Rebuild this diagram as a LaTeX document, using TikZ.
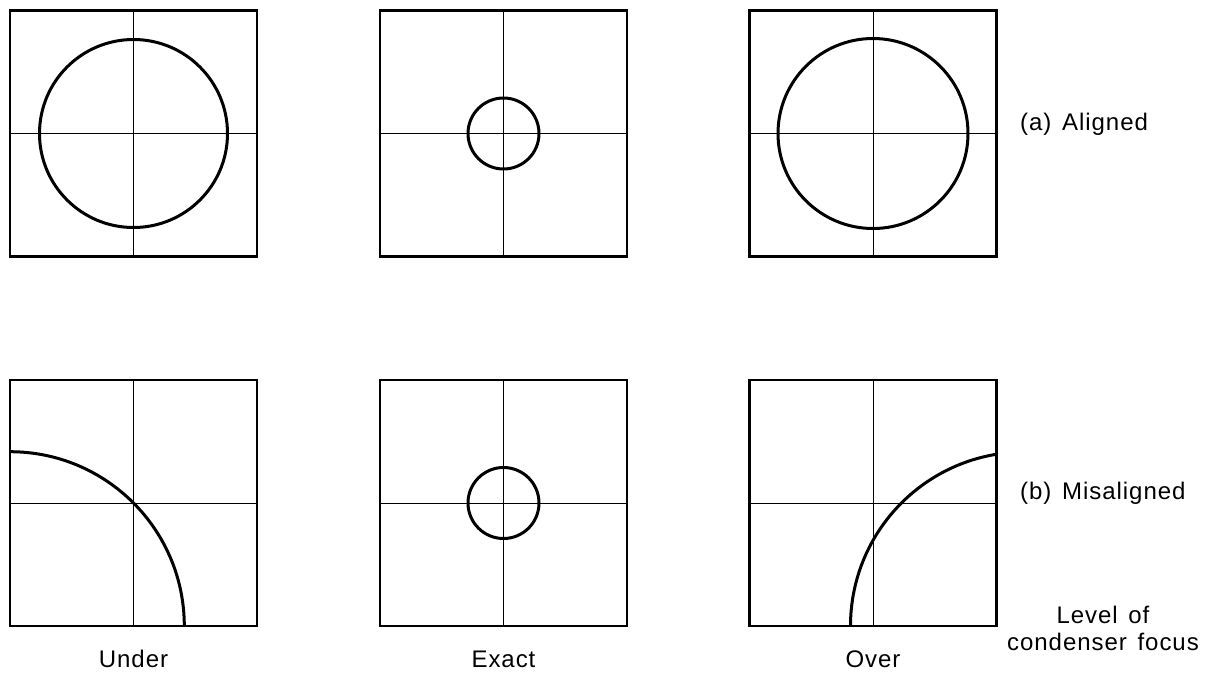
\documentclass[tikz,border=0pt]{standalone}
\usepackage{fontspec}
\setmainfont{Liberation Sans}[LetterSpace=4, WordSpace=1.4]
\begin{document}
\begin{tikzpicture}[x=1pt,y=-1pt,
  frame/.style={draw, line width=2.2pt, minimum width=247pt, minimum height=246pt, inner sep=0pt, outer sep=0pt},
  crossline/.style={line width=1pt},
  ring/.style={line width=3pt},
  lbl/.style={font=\fontsize{24}{28}\selectfont, inner sep=0pt}]
\useasboundingbox (0,0) rectangle (1212,675);
% top row
\node[frame] (a1) at (133.5,133.5) {};
\node[frame] (a2) at (503.5,133.5) {};
\node[frame] (a3) at (873,133.5) {};
% bottom row
\node[frame] (b1) at (133.5,503) {};
\node[frame] (b2) at (503.5,503) {};
\node[frame] (b3) at (873,503) {};
% crosses
\foreach \b in {a1,a2,a3,b1,b2,b3}{
  \draw[crossline] (\b.north) -- (\b.south);
  \draw[crossline] (\b.west) -- (\b.east);
}
% circles (aligned)
\draw[ring] (a1.center) circle[radius=94pt];
\draw[ring] (a2.center) circle[radius=35.5pt];
\draw[ring] (a3.center) circle[radius=95pt];
% misaligned
\begin{scope}
  \clip (b1.south west) rectangle (b1.north east);
  \draw[ring] (b1.south west) circle[radius=174.3pt];
\end{scope}
\draw[ring] (b2.center) circle[radius=35.5pt];
\begin{scope}
  \clip (b3.south west) rectangle (b3.north east);
  \coordinate (oc) at ([xshift=28pt]b3.south east);
  \draw[ring] (oc) circle[radius=174pt];
\end{scope}
% labels
\node[lbl, anchor=base west] (la) at (1020,130) {(a) Aligned};
\node[lbl, anchor=base west] (lb) at (1020,499) {(b) Misaligned};
\node[lbl, anchor=base] (lu) at (133.5,667) {Under};
\node[lbl, anchor=base] (le) at (503.5,667) {Exact};
\node[lbl, anchor=base] (lo) at (873,667) {Over};
\node[lbl, anchor=base] (lv1) at (1103,623) {Level of};
\node[lbl, anchor=base] (lv2) at (1103,650) {condenser focus};
\end{tikzpicture}
\end{document}
